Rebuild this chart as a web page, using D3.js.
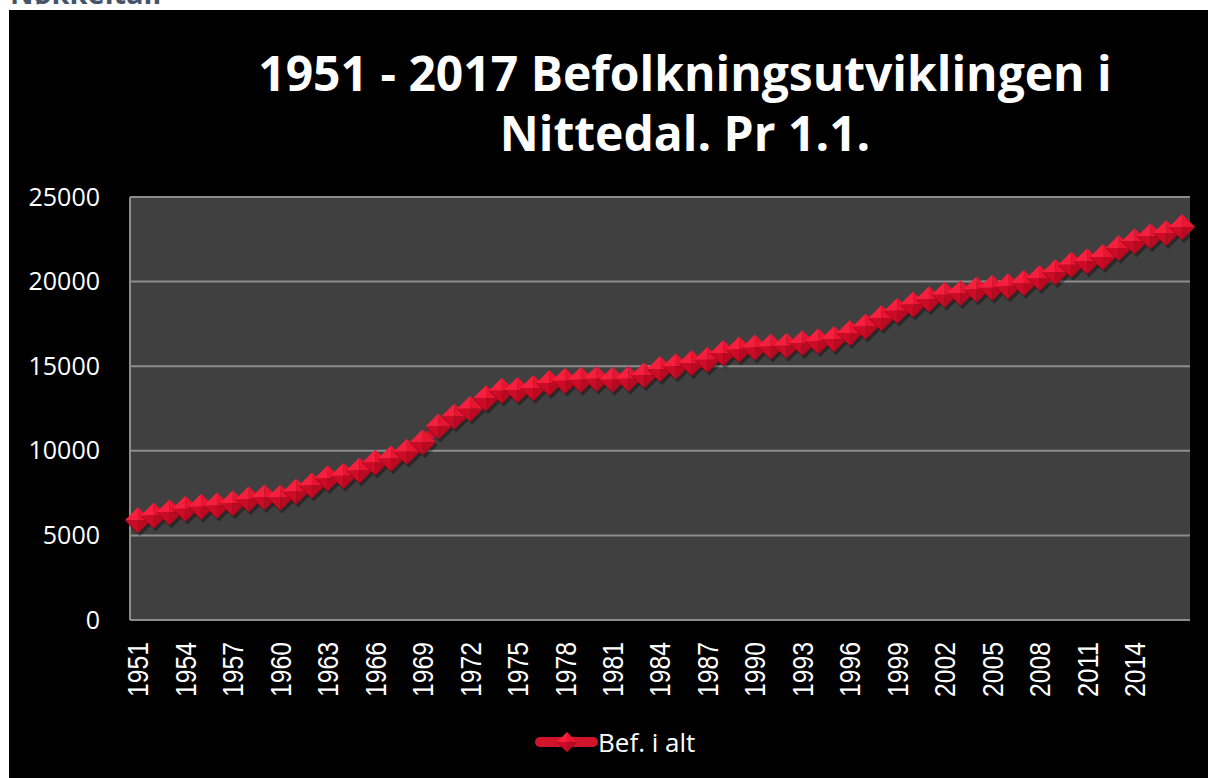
<!DOCTYPE html>
<html>
<head>
<meta charset="utf-8">
<script src="https://cdn.jsdelivr.net/npm/d3@7"></script>
<style>
  body { margin: 0; background: #fff; }
  svg { display: block; }
</style>
</head>
<body>
<div id="chart"></div>
<script>
// Befolkning i Nittedal pr 1.1., lest av figuren
var years = [1951, 1952, 1953, 1954, 1955, 1956, 1957, 1958, 1959, 1960,
             1961, 1962, 1963, 1964, 1965, 1966, 1967, 1968, 1969, 1970,
             1971, 1972, 1973, 1974, 1975, 1976, 1977, 1978, 1979, 1980,
             1981, 1982, 1983, 1984, 1985, 1986, 1987, 1988, 1989, 1990,
             1991, 1992, 1993, 1994, 1995, 1996, 1997, 1998, 1999, 2000,
             2001, 2002, 2003, 2004, 2005, 2006, 2007, 2008, 2009, 2010,
             2011, 2012, 2013, 2014, 2015, 2016, 2017];

var befolkning = [5900, 6170, 6370, 6570, 6700, 6760, 6900, 7140, 7260, 7240,
                  7590, 7950, 8380, 8520, 8830, 9310, 9540, 9950, 10500, 11440,
                  12030, 12480, 13110, 13550, 13600, 13710, 14000, 14140, 14200, 14260,
                  14200, 14260, 14460, 14840, 14990, 15190, 15380, 15780, 15980, 16110,
                  16170, 16210, 16370, 16470, 16610, 16960, 17350, 17850, 18280, 18640,
                  18950, 19230, 19330, 19530, 19630, 19720, 19920, 20220, 20550, 21000,
                  21200, 21460, 21990, 22380, 22680, 22870, 23230];

var xTickLabels = [1951, 1954, 1957, 1960, 1963, 1966, 1969, 1972, 1975, 1978,
                   1981, 1984, 1987, 1990, 1993, 1996, 1999, 2002, 2005, 2008,
                   2011, 2014];

var yTicks = [0, 5000, 10000, 15000, 20000, 25000];

var titleLines = ["1951 - 2017 Befolkningsutviklingen i", "Nittedal. Pr 1.1."];
var seriesName = "Bef. i alt";

var width = 1208, height = 778;
var plot = {left: 130, right: 1190, top: 197, bottom: 620};

var svg = d3.select("#chart").append("svg")
    .attr("width", width)
    .attr("height", height);

// overskrift fra siden bak, bare nederste del synes
svg.append("text")
    .attr("x", 10)
    .attr("y", 4)
    .style("font-family", "'Open Sans', sans-serif")
    .style("font-weight", "bold")
    .style("font-size", "29px")
    .style("fill", "#44546a")
    .text("Nøkkeltall");

svg.append("rect")
    .attr("x", 9)
    .attr("y", 10)
    .attr("width", width - 9)
    .attr("height", height - 10)
    .style("fill", "#000");

var title = svg.append("text")
    .attr("text-anchor", "middle")
    .style("font-family", "'Open Sans', sans-serif")
    .style("font-weight", "bold")
    .style("font-size", "48px")
    .style("fill", "#fff");

title.selectAll("tspan")
    .data(titleLines)
  .enter().append("tspan")
    .attr("x", 685)
    .attr("y", function(d, i) { return 91 + i * 60; })
    .text(function(d) { return d; });

var x = d3.scaleBand()
    .domain(years)
    .range([plot.left, plot.right])
    .padding(0);

var y = d3.scaleLinear()
    .domain([0, 25000])
    .range([plot.bottom, plot.top]);

var cx = function(d) { return x(d) + x.bandwidth() / 2; };

svg.append("rect")
    .attr("x", plot.left)
    .attr("y", plot.top)
    .attr("width", plot.right - plot.left)
    .attr("height", plot.bottom - plot.top)
    .style("fill", "#404040");

// gridlines
svg.append("g")
    .selectAll("line")
    .data(yTicks)
  .enter().append("line")
    .attr("x1", plot.left)
    .attr("x2", plot.right)
    .attr("y1", function(d) { return y(d); })
    .attr("y2", function(d) { return y(d); })
    .style("stroke", "#8c8c8c")
    .style("stroke-width", 2);

svg.append("line")
    .attr("x1", plot.left)
    .attr("x2", plot.left)
    .attr("y1", plot.top)
    .attr("y2", plot.bottom)
    .style("stroke", "#8c8c8c")
    .style("stroke-width", 2);

// y axis
var yAxis = svg.append("g")
    .attr("transform", "translate(" + (plot.left - 30) + ",0)")
    .call(d3.axisLeft(y).tickValues(yTicks).tickSize(0).tickPadding(0).tickFormat(d3.format("d")));
yAxis.select(".domain").remove();
yAxis.selectAll("text")
    .style("font-family", "'Open Sans', sans-serif")
    .style("font-size", "25px")
    .style("fill", "#fff");

// x axis - smale, høye tall
var xAxis = svg.append("g")
    .attr("transform", "translate(0," + plot.bottom + ")")
    .call(d3.axisBottom(x).tickValues(xTickLabels).tickSize(0));
xAxis.select(".domain").remove();
xAxis.selectAll("text")
    .attr("transform", "rotate(-90)")
    .attr("x", -22)
    .attr("y", 0)
    .attr("dy", "0.36em")
    .attr("text-anchor", "end")
    .attr("textLength", 55)
    .attr("lengthAdjust", "spacingAndGlyphs")
    .style("font-family", "'Liberation Sans', Arial, sans-serif")
    .style("font-size", "29px")
    .style("fill", "#fff");

var points = years.map(function(d, i) { return {year: d, value: befolkning[i]}; });

svg.append("path")
    .datum(points)
    .attr("d", d3.line().x(function(d) { return cx(d.year); }).y(function(d) { return y(d.value); }))
    .style("fill", "none")
    .style("stroke", "#d0142c")
    .style("stroke-width", 9)
    .style("stroke-linejoin", "round");

// pyramide-markør: fire flater med ulik tone
function drawMarker(g, r) {
  g.append("path").attr("d", "M" + (-r) + ",0L0," + (-r) + "L0,0Z").style("fill", "#f5203d");
  g.append("path").attr("d", "M0," + (-r) + "L" + r + ",0L0,0Z").style("fill", "#e81530");
  g.append("path").attr("d", "M" + (-r) + ",0L0," + r + "L0,0Z").style("fill", "#cc0c26");
  g.append("path").attr("d", "M" + r + ",0L0," + r + "L0,0Z").style("fill", "#b80a21");
  g.append("path")
      .attr("d", "M" + (-r) + ",0L0," + r + "L" + r + ",0")
      .style("fill", "none")
      .style("stroke", "#8f0a1d")
      .style("stroke-width", 0.8);
}

var r = 13;

svg.append("g")
    .selectAll("path")
    .data(points)
  .enter().append("path")
    .attr("transform", function(d) { return "translate(" + (cx(d.year) + 2) + "," + (y(d.value) + 3) + ")"; })
    .attr("d", "M" + (-r) + ",0L0," + (-r) + "L" + r + ",0L0," + r + "Z")
    .style("fill", "#000")
    .style("opacity", 0.35);

svg.append("g")
    .selectAll("g")
    .data(points)
  .enter().append("g")
    .attr("transform", function(d) { return "translate(" + cx(d.year) + "," + y(d.value) + ")"; })
    .each(function() { drawMarker(d3.select(this), r); });

// legend
var legend = svg.append("g").attr("transform", "translate(536,742)");
legend.append("line")
    .attr("x1", 4).attr("x2", 57)
    .style("stroke", "#d0142c")
    .style("stroke-width", 10)
    .style("stroke-linecap", "round");
drawMarker(legend.append("g").attr("transform", "translate(31,0)"), 10);
legend.append("text")
    .attr("x", 62)
    .attr("y", 10)
    .style("font-family", "'Open Sans', sans-serif")
    .style("font-size", "26px")
    .style("fill", "#fff")
    .text(seriesName);
</script>
</body>
</html>
